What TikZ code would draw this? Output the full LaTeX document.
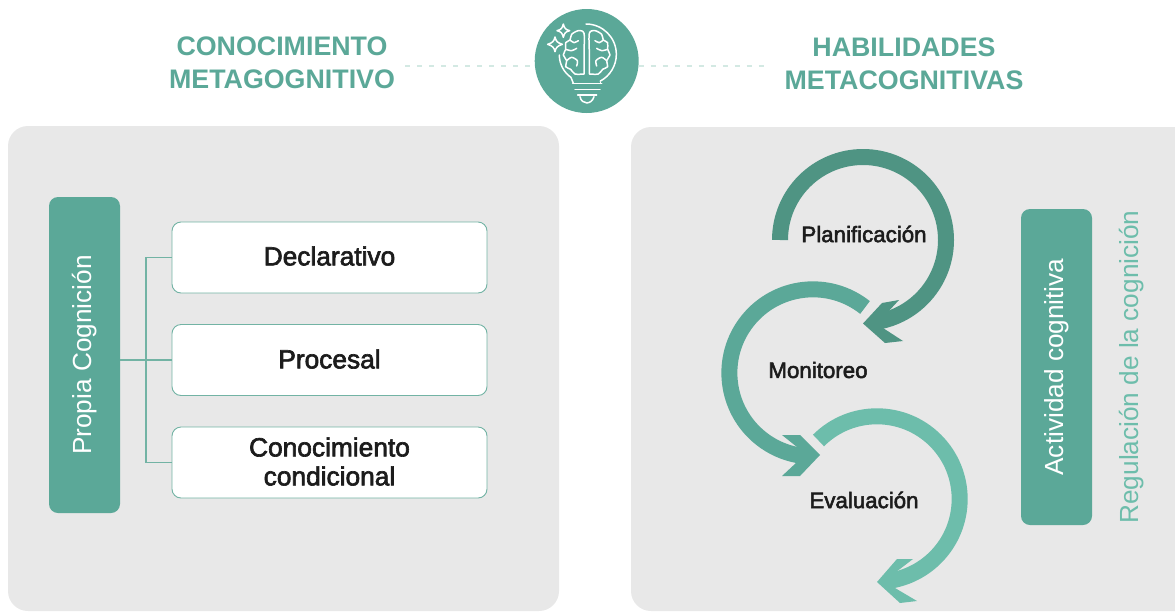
\documentclass[tikz,border=0pt]{standalone}
\usepackage{fontspec}
\setmainfont{Liberation Sans}
\newfontfamily\medfont[FakeBold=2.4]{Liberation Sans}
\newfontfamily\boldfont{Liberation Sans Bold}
\definecolor{tealmain}{HTML}{5BA898}
\definecolor{tealdark}{HTML}{4F9483}
\definecolor{teallight}{HTML}{6DBDAB}
\definecolor{tealline}{HTML}{72B3A4}
\definecolor{panelgrey}{HTML}{E8E8E8}
\definecolor{dashteal}{HTML}{D3E9E3}
\definecolor{inkdark}{HTML}{1C1C1C}
\tikzset{
  panel/.style={fill=panelgrey,rounded corners=20pt,draw=none},
  barbox/.style={fill=tealmain,draw=none,rounded corners=9pt,minimum width=71pt,minimum height=316pt,inner sep=0pt},
  whitebox/.style={fill=white,draw=tealline,line width=0.9pt,rounded corners=9pt,minimum width=315pt,minimum height=71pt,inner sep=0pt},
  barlabel/.style={text=white,font=\fontsize{26.2}{30}\selectfont,rotate=90,inner sep=0pt},
  boxlabel/.style={text=inkdark,font=\medfont\fontsize{26.3}{29}\selectfont,align=center,inner sep=0pt},
  cyclelabel/.style={text=inkdark,font=\medfont\fontsize{22.3}{25}\selectfont,inner sep=0pt},
  titlelabel/.style={text=tealmain,font=\boldfont\fontsize{26.8}{33}\selectfont,align=center,inner sep=0pt},
  link/.style={draw=tealline,line width=1.4pt},
  dashlink/.style={draw=dashteal,line width=1.5pt,dash pattern=on 5pt off 7pt},
  iconline/.style={draw=white,line width=1.5pt,line cap=round,line join=round},
}
\newcommand{\brainhalf}{%
  \draw[iconline] plot[smooth] coordinates {(552,222) (552,160) (552,100) (535,92) (515,103) (510,120) (497,128) (497,148) (490,165) (500,182) (497,200) (512,208) (525,222) (552,222)};
  \draw[iconline] plot[smooth] coordinates {(510,120) (522,128) (535,122)};
  \draw[iconline] plot[smooth] coordinates {(497,148) (515,152) (530,145)};
  \draw[iconline] plot[smooth] coordinates {(500,182) (515,172) (532,182) (530,198)};
}
\begin{document}
\begin{tikzpicture}[x=1pt,y=1pt,yscale=-1]
\useasboundingbox (0,0) rectangle (1175,611);
\fill[white] (0,0) rectangle (1175,611);
% panels
\path[panel] (8,126) rectangle (559,611);
\begin{scope}
  \clip (0,0) rectangle (1175,611);
  \path[panel] (631,127) rectangle (1200,611);
\end{scope}
% header
\node[titlelabel] (t1) at (282,63) {CONOCIMIENTO\\METAGOGNITIVO};
\node[titlelabel] (t2) at (904,64) {HABILIDADES\\METACOGNITIVAS};
\node[circle,fill=tealmain,minimum size=104pt,inner sep=0pt] (icon) at (586.7,61) {};
\coordinate (dl) at (405,66);
\coordinate (dr) at (768,66);
\draw[dashlink] (dl) -- (icon.west |- dl);
\draw[dashlink] (icon.east |- dr) -- (dr);
% icon
\begin{scope}[shift={(400,0)},scale=1/3]
  \draw[iconline] (558,72) arc (-90:62:91);
  \draw[iconline] (478,165) arc (180:125:82) -- (520,250);
  \draw[iconline] (602,246) -- (602,250);
  \draw[iconline] (518,250) -- (605,250);
  \draw[iconline] (525,268) -- (600,268);
  \draw[iconline] (533,285) -- (590,285);
  \draw[iconline] (540,290) .. controls (545,315) and (575,315) .. (582,290);
  \draw[iconline] (490,72) .. controls (493,85) and (497,89) .. (509,92) .. controls (497,95) and (493,99) .. (490,112) .. controls (487,99) and (483,95) .. (471,92) .. controls (483,89) and (487,85) .. (490,72) -- cycle;
  \draw[iconline] (465,111) .. controls (468,124) and (472,128) .. (487,133) .. controls (472,138) and (468,142) .. (465,155) .. controls (462,142) and (458,138) .. (443,133) .. controls (458,128) and (462,124) .. (465,111) -- cycle;
  \brainhalf
  \begin{scope}[shift={(1120,0)},xscale=-1]
    \brainhalf
  \end{scope}
\end{scope}
% left panel
\node[barbox] (bar1) at (84.5,355) {};
\node[barlabel] (bar1t) at (84.5,355) {Propia Cognición};
\node[whitebox] (b1) at (329.5,257.5) {};
\node[whitebox] (b2) at (329.5,360) {};
\node[whitebox] (b3) at (329.5,462.5) {};
\node[boxlabel] at (b1) [yshift=1.5pt] {Declarativo};
\node[boxlabel] at (b2) [yshift=1pt] {Procesal};
\node[boxlabel] at (b3) [yshift=1pt] {Conocimiento\\condicional};
\coordinate (trunk) at (146,360);
\draw[link] (bar1.east |- b2.west) -- (b2.west);
\draw[link] (b1.west) -- (trunk |- b1.west) -- (trunk |- b3.west) -- (b3.west);
% right panel bars
\node[barbox] (bar2) at (1056.5,367) {};
\node[barlabel] at (bar2) {Actividad cognitiva};
\node[barlabel,text=teallight] (reg) at (1132,367) {Regulación de la cognición};
% cycle
\draw[tealdark,line width=16pt] (780,240) arc (180:438:83);
\fill[tealdark] (863,323.5) -- (882,303) -- (899,300) -- (886,314) -- (883,328) -- (903,341) -- (885,343) -- cycle;
\draw[tealmain,line width=16pt] (865,307.5) arc (-51.5:-260:83.6);
\fill[tealmain] (820,455) -- (800,435) -- (782,435) -- (797,447) -- (797,462) -- (782,476) -- (800,476) -- cycle;
\draw[teallight,line width=16pt] (818.5,440.5) arc (-135:80:82.7);
\fill[teallight] (877,582) -- (897,559) -- (913,559) -- (896,572) -- (895,588) -- (917,601) -- (900,603) -- cycle;
\node[cyclelabel] (c1) at (864,234) {Planificación};
\node[cyclelabel] (c2) at (818,370) {Monitoreo};
\node[cyclelabel] (c3) at (864,500) {Evaluación};
\end{tikzpicture}
\end{document}
